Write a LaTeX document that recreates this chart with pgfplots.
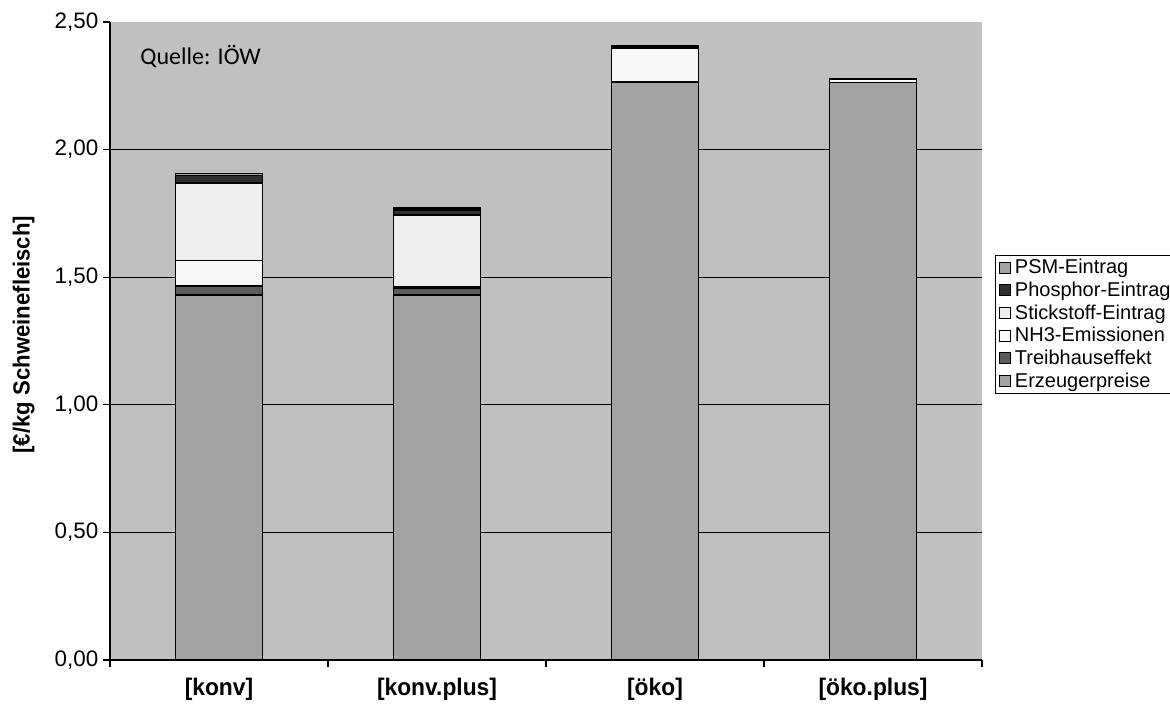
\documentclass[border=0pt]{standalone}
\usepackage{fontspec}
\setmainfont{Liberation Sans}
\newfontfamily\calib{Carlito}
\newfontfamily\narrowsans[FakeStretch=0.95]{Liberation Sans}
\usepackage{pgfplots}
\pgfplotsset{compat=1.18}

\definecolor{plotbg}{HTML}{C0C0C0}
\definecolor{cErz}{HTML}{A3A3A3}
\definecolor{cTreib}{HTML}{5C5C5C}
\definecolor{cNH}{HTML}{F8F8F8}
\definecolor{cStick}{HTML}{EEEEEE}
\definecolor{cPhos}{HTML}{303030}
\definecolor{cPSM}{HTML}{A3A3A3}

\pgfplotsset{
  sqlegend/.style={legend image code/.code={
      \draw[##1,draw=black,line width=0.6pt] (0pt,-4.1pt) rectangle (8.25pt,4.1pt);}},
}

\begin{document}
\begin{tikzpicture}[x=0.75pt,y=0.75pt]
\begin{axis}[
  at={(0,0)}, anchor=south west,
  scale only axis,
  width=654pt, height=478.5pt,
  ybar stacked, bar width=65.25pt,
  xmin=-0.5, xmax=3.5,
  ymin=0, ymax=2.5,
  axis x line*=bottom, axis y line*=left,
  axis line style={black, line width=0.8pt},
  axis background/.style={fill=plotbg},
  tick align=outside,
  major tick length=5.25pt,
  tick style={black, line width=0.8pt},
  xtick={-0.5,0.5,1.5,2.5,3.5},
  xticklabels={},
  extra x ticks={0,1,2,3},
  extra x tick labels={[konv],[konv.plus],[öko],[öko.plus]},
  extra x tick style={tick style={draw=none}, grid=none,
    xticklabel style={font=\narrowsans\bfseries\fontsize{18}{21}\selectfont, yshift=-5pt}},
  ytick={0,0.5,1,1.5,2},
  extra y ticks={2.5},
  extra y tick style={grid=none},
  ymajorgrids,
  grid style={black, line width=0.75pt},
  /pgf/number format/.cd, fixed, fixed zerofill, precision=2, use comma, assume math mode=true,
  /pgfplots/.cd,
  yticklabel style={font=\fontsize{16.8}{19}\selectfont},
  ylabel={[€/kg Schweinefleisch]},
  ylabel style={font=\narrowsans\bfseries\fontsize{17.5}{20}\selectfont,
    at={(axis description cs:-0.099,0.51)}, anchor=center},
  every axis plot/.append style={draw=black, line width=1.1pt},
  legend style={at={(rel axis cs:1.0149,0.6348)}, anchor=north west,
    draw=black, line width=0.6pt, fill=white,
    font=\fontsize{15}{18}\selectfont,
    inner xsep=3pt, inner ysep=1pt, row sep=0.6pt,
    nodes={inner xsep=2.8pt}},
  legend cell align=left,
  reverse legend,
]
% stacked from the bottom: producer price, then the external costs
\addplot[fill=cErz, sqlegend] coordinates {(0,1.430) (1,1.430) (2,2.262) (3,2.262)};
\addplot[fill=cTreib, sqlegend] coordinates {(0,0.035) (1,0.027) (2,0.002) (3,0.001)};
\addplot[fill=cNH, sqlegend] coordinates {(0,0.100) (1,0.004) (2,0.135) (3,0.013)};
\addplot[fill=cStick, sqlegend] coordinates {(0,0.305) (1,0.282) (2,0.000) (3,0.000)};
\addplot[fill=cPhos, sqlegend] coordinates {(0,0.029) (1,0.020) (2,0.005) (3,0.002)};
\addplot[fill=cPSM, sqlegend] coordinates {(0,0.008) (1,0.008) (2,0.002) (3,0.001)};
\legend{Erzeugerpreise,Treibhauseffekt,NH3-Emissionen,Stickstoff-Eintrag,Phosphor-Eintrag,PSM-Eintrag}
\node[anchor=west, font=\calib\fontsize{18}{21}\selectfont] at (rel axis cs:0.0295,0.946) {Quelle: IÖW};
\end{axis}
\pgfresetboundingbox
\useasboundingbox (-110,-46) rectangle (1060,660);
\end{tikzpicture}
\end{document}
